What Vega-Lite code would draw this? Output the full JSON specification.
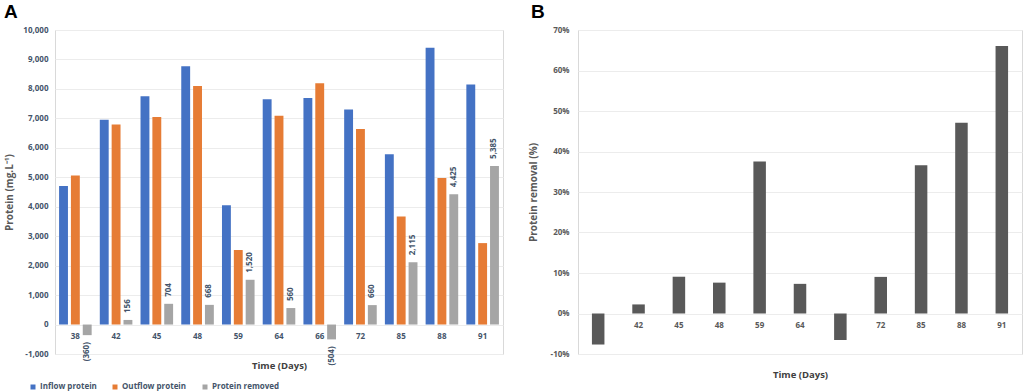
{
  "$schema": "https://vega.github.io/schema/vega-lite/v6.json",
  "padding": {"left": 3, "top": 2, "right": 0, "bottom": 0},
  "spacing": 23,
  "config": {
    "font": "Open Sans",
    "view": {"stroke": "#d9d9d9", "strokeWidth": 1},
    "axis": {"gridColor": "#ececec", "labelFont": "Open Sans", "titleFont": "Open Sans"}
  },
  "datasets": {
    "protein": [
      {"day": 38, "series": "Inflow protein", "value": 4700},
      {"day": 38, "series": "Outflow protein", "value": 5060},
      {"day": 38, "series": "Protein removed", "value": -360, "lbl": "(360)"},
      {"day": 42, "series": "Inflow protein", "value": 6950},
      {"day": 42, "series": "Outflow protein", "value": 6794},
      {"day": 42, "series": "Protein removed", "value": 156, "lbl": "156"},
      {"day": 45, "series": "Inflow protein", "value": 7750},
      {"day": 45, "series": "Outflow protein", "value": 7046},
      {"day": 45, "series": "Protein removed", "value": 704, "lbl": "704"},
      {"day": 48, "series": "Inflow protein", "value": 8770},
      {"day": 48, "series": "Outflow protein", "value": 8102},
      {"day": 48, "series": "Protein removed", "value": 668, "lbl": "668"},
      {"day": 59, "series": "Inflow protein", "value": 4050},
      {"day": 59, "series": "Outflow protein", "value": 2530},
      {"day": 59, "series": "Protein removed", "value": 1520, "lbl": "1,520"},
      {"day": 64, "series": "Inflow protein", "value": 7650},
      {"day": 64, "series": "Outflow protein", "value": 7090},
      {"day": 64, "series": "Protein removed", "value": 560, "lbl": "560"},
      {"day": 66, "series": "Inflow protein", "value": 7690},
      {"day": 66, "series": "Outflow protein", "value": 8194},
      {"day": 66, "series": "Protein removed", "value": -504, "lbl": "(504)"},
      {"day": 72, "series": "Inflow protein", "value": 7300},
      {"day": 72, "series": "Outflow protein", "value": 6640},
      {"day": 72, "series": "Protein removed", "value": 660, "lbl": "660"},
      {"day": 85, "series": "Inflow protein", "value": 5780},
      {"day": 85, "series": "Outflow protein", "value": 3665},
      {"day": 85, "series": "Protein removed", "value": 2115, "lbl": "2,115"},
      {"day": 88, "series": "Inflow protein", "value": 9400},
      {"day": 88, "series": "Outflow protein", "value": 4975},
      {"day": 88, "series": "Protein removed", "value": 4425, "lbl": "4,425"},
      {"day": 91, "series": "Inflow protein", "value": 8150},
      {"day": 91, "series": "Outflow protein", "value": 2765},
      {"day": 91, "series": "Protein removed", "value": 5385, "lbl": "5,385"}
    ],
    "removal": [
      {"day": 38, "pct": -0.0766},
      {"day": 42, "pct": 0.0224},
      {"day": 45, "pct": 0.0908},
      {"day": 48, "pct": 0.0762},
      {"day": 59, "pct": 0.3753},
      {"day": 64, "pct": 0.0732},
      {"day": 66, "pct": -0.0655},
      {"day": 72, "pct": 0.0904},
      {"day": 85, "pct": 0.3659},
      {"day": 88, "pct": 0.4707},
      {"day": 91, "pct": 0.6607}
    ]
  },
  "hconcat": [
    {
      "width": 448,
      "height": 324,
      "title": {"text": "A", "anchor": "start", "frame": "bounds", "fontSize": 19, "font": "Liberation Sans", "fontWeight": "bold", "color": "#000000", "offset": 4},
      "data": {"name": "protein"},
      "encoding": {
        "x": {
          "field": "day", "type": "ordinal",
          "scale": {"paddingInner": 0.2, "paddingOuter": 0.1},
          "axis": {"title": "Time (Days)", "offset": -30, "domain": false, "ticks": false, "grid": false, "labelAngle": 0, "labelPadding": 8, "labelColor": "#44546a", "labelFontSize": 8, "labelFontWeight": "bold", "titlePadding": 20, "titleFontSize": 9.5, "titleFontWeight": "bold", "titleColor": "#404040"}
        },
        "xOffset": {"field": "series", "type": "nominal", "sort": ["Inflow protein", "Outflow protein", "Protein removed"], "scale": {"paddingInner": 0.25}},
        "y": {
          "field": "value", "type": "quantitative",
          "scale": {"domain": [-1000, 10000], "nice": false},
          "axis": {"title": "Protein (mg.L⁻¹)", "format": ",.0f", "values": [-1000, 0, 1000, 2000, 3000, 4000, 5000, 6000, 7000, 8000, 9000, 10000], "labelOverlap": false, "labelExpr": "replace(datum.label, '−', '-')", "domain": false, "ticks": false, "labelPadding": 7, "minExtent": 34, "maxExtent": 34, "titlePadding": 7, "labelColor": "#44546a", "labelFontSize": 8, "labelFontWeight": "bold", "titleFontSize": 10, "titleFontWeight": "bold", "titleColor": "#595959"}
        }
      },
      "layer": [
        {
          "mark": {"type": "bar"},
          "encoding": {
            "color": {
              "field": "series", "type": "nominal",
              "scale": {"domain": ["Inflow protein", "Outflow protein", "Protein removed"], "range": ["#4472c4", "#e67c35", "#a5a5a5"]},
              "legend": {"orient": "none", "legendX": -26, "legendY": 353, "direction": "horizontal", "title": null, "symbolType": "square", "symbolSize": 25, "symbolStrokeWidth": 0, "labelFontSize": 8, "labelFontWeight": "bold", "labelColor": "#44546a", "columnPadding": 14, "labelOffset": 3}
            }
          }
        },
        {
          "transform": [{"filter": "datum.series == 'Protein removed' && datum.value >= 0"}],
          "mark": {"type": "text", "angle": 270, "align": "left", "baseline": "middle", "dx": 7, "fontSize": 8, "fontWeight": "bold", "color": "#44546a"},
          "encoding": {"text": {"field": "lbl"}}
        },
        {
          "transform": [{"filter": "datum.series == 'Protein removed' && datum.value < 0"}],
          "mark": {"type": "text", "angle": 270, "align": "right", "baseline": "middle", "dx": -7, "fontSize": 8, "fontWeight": "bold", "color": "#44546a"},
          "encoding": {"text": {"field": "lbl"}}
        }
      ]
    },
    {
      "width": 444,
      "height": 324,
      "title": {"text": "B", "anchor": "start", "frame": "bounds", "fontSize": 19, "font": "Liberation Sans", "fontWeight": "bold", "color": "#000000", "offset": 4, "dx": 3},
      "data": {"name": "removal"},
      "mark": {"type": "bar", "color": "#595959"},
      "encoding": {
        "x": {
          "field": "day", "type": "ordinal",
          "scale": {"paddingInner": 0.69, "paddingOuter": 0.345},
          "axis": {"title": "Time (Days)", "offset": -40, "domain": false, "ticks": false, "grid": false, "labelAngle": 0, "labelPadding": 7, "labelExpr": "datum.label == '38' || datum.label == '66' ? '' : datum.label", "labelColor": "#595959", "labelFontSize": 8, "labelFontWeight": "bold", "titlePadding": 40, "titleFontSize": 9.5, "titleFontWeight": "bold", "titleColor": "#404040"}
        },
        "y": {
          "field": "pct", "type": "quantitative",
          "scale": {"domain": [-0.1, 0.7], "nice": false},
          "axis": {"title": "Protein removal (%)", "format": ".0%", "values": [-0.1, 0, 0.1, 0.2, 0.3, 0.4, 0.5, 0.6, 0.7], "labelOverlap": false, "labelExpr": "replace(datum.label, '−', '-')", "domain": false, "ticks": false, "labelPadding": 9, "minExtent": 31, "maxExtent": 31, "titlePadding": 9, "labelColor": "#595959", "labelFontSize": 8, "labelFontWeight": "bold", "titleFontSize": 10, "titleFontWeight": "bold", "titleColor": "#595959"}
        }
      }
    }
  ]
}
